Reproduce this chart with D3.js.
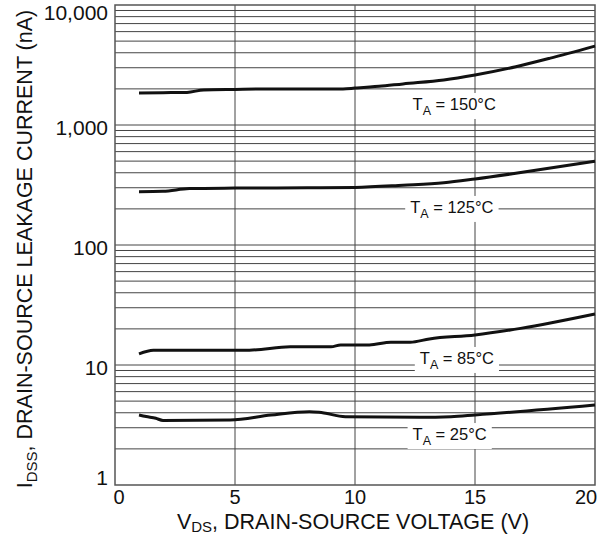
<!DOCTYPE html>
<html><head><meta charset="utf-8">
<script src="https://cdn.jsdelivr.net/npm/d3@7/dist/d3.min.js"></script>
<style>
body{margin:0;background:#fff;}
text{font-family:Arial,"Liberation Sans",Helvetica,sans-serif;fill:#111;}
</style></head>
<body>
<svg id="chart" width="611" height="535"></svg>
<script>
// ---- data ----
const xTicks = [0, 5, 10, 15, 20];
const yTicks = [1, 10, 100, 1000, 10000];
const yTickLabels = ["1", "10", "100", "1,000", "10,000"];

const v150 = [1, 2, 3, 3.7, 5, 7, 9.5, 10, 11, 12, 13.7, 15, 16.7, 18.1, 20];
const i150 = [1850, 1860, 1870, 1960, 1980, 2000, 2000, 2030, 2100, 2200, 2370, 2610, 3060, 3590, 4550];

const v125 = [1, 2, 3.1, 5, 8, 10, 12, 13.7, 15, 16.7, 20];
const i125 = [278, 280, 295, 298, 300, 302, 315, 330, 355, 396, 500];

const v85 = [1, 1.6, 5.6, 7.3, 9, 9.4, 10.6, 11.5, 12.3, 13.1, 15, 16.9, 20];
const i85 = [12.4, 13.3, 13.3, 14.2, 14.2, 14.7, 14.7, 15.5, 15.5, 16.5, 17.8, 20.2, 26.6];

const v25 = [1, 1.3, 1.7, 2, 4.8, 6.5, 8.1, 8.5, 9.6, 12.7, 14, 15, 20];
const i25 = [3.83, 3.72, 3.6, 3.45, 3.48, 3.83, 4.08, 4.04, 3.71, 3.67, 3.71, 3.83, 4.64];

const seriesTemps = ["150", "125", "85", "25"];
// label anchors in data units (start of text, baseline)
const labelV = [12.4, 12.3, 12.7, 12.4];
const labelI = [1334, 185, 10.2, 2.37];

// ---- layout ----
const svg = d3.select("#chart");
const L = 115, R = 595, T = 5, B = 485;
const x = d3.scaleLinear().domain([0, 20]).range([L, R]);
const y = d3.scaleLog().domain([1, 10000]).range([B, T]);

// gridlines
const g = svg.append("g");
const minor = [];
for (let d = 1; d < 10000; d *= 10) for (let k = 2; k <= 9; k++) minor.push(d * k);
g.selectAll("line.h").data(minor.concat([10, 100, 1000])).join("line")
  .attr("x1", L).attr("x2", R)
  .attr("y1", d => y(d)).attr("y2", d => y(d))
  .attr("stroke", "#444").attr("stroke-width", 1);
g.selectAll("line.v").data([5, 10, 15]).join("line")
  .attr("y1", T).attr("y2", B)
  .attr("x1", d => x(d)).attr("x2", d => x(d))
  .attr("stroke", "#444").attr("stroke-width", 1);

// border
svg.append("rect").attr("x", L).attr("y", T).attr("width", R - L).attr("height", B - T)
  .attr("fill", "none").attr("stroke", "#555").attr("stroke-width", 1.5);

// curves
const line = d3.line().x(d => x(d[0])).y(d => y(d[1])).curve(d3.curveMonotoneX);
const series = [[v150, i150], [v125, i125], [v85, i85], [v25, i25]];
series.forEach(([vs, is]) => {
  svg.append("path").datum(vs.map((v, k) => [v, is[k]]))
    .attr("d", line).attr("fill", "none").attr("stroke", "#111")
    .attr("stroke-width", 3).attr("stroke-linejoin", "round");
});

// labels with white boxes
seriesTemps.forEach((t, k) => {
  const gx = x(labelV[k]), gy = y(labelI[k]);
  const grp = svg.append("g");
  const rect = grp.append("rect").attr("fill", "#fff");
  const txt = grp.append("text").attr("x", gx).attr("y", gy).style("font-size", "16.5px");
  txt.append("tspan").text("T");
  txt.append("tspan").text("A").attr("dy", 5).style("font-size", "12.5px");
  txt.append("tspan").text(" = " + t + "°C").attr("dy", -5);
  const bb = txt.node().getBBox();
  rect.attr("x", bb.x - 5).attr("y", gy - 17).attr("width", bb.width + 10).attr("height", 26);
});

// y tick labels
const yOff = {1: 0, 10: 10, 100: 10, 1000: 10, 10000: 15};
svg.selectAll("text.yt").data(yTicks).join("text")
  .attr("x", 108).attr("y", d => y(d) + yOff[d])
  .attr("text-anchor", "end").style("font-size", "21px")
  .text((d, k) => yTickLabels[k]);

// x tick labels
const xShift = {0: 4, 5: 0, 10: 0, 15: 0, 20: -9};
svg.selectAll("text.xt").data(xTicks).join("text")
  .attr("x", d => x(d) + xShift[d]).attr("y", 504)
  .attr("text-anchor", "middle").style("font-size", "20px")
  .text(d => d);

// x title
const xt = svg.append("text").attr("x", 353).attr("y", 528.5)
  .attr("text-anchor", "middle").style("font-size", "21.5px");
xt.append("tspan").text("V");
xt.append("tspan").text("DS").attr("dy", 3).style("font-size", "15px");
xt.append("tspan").text(", DRAIN-SOURCE VOLTAGE (V)").attr("dy", -3);

// y title
const yt = svg.append("text").attr("transform", "translate(32,249) rotate(-90)")
  .attr("text-anchor", "middle").style("font-size", "21.5px");
yt.append("tspan").text("I");
yt.append("tspan").text("DSS").attr("dy", 5).style("font-size", "15px");
yt.append("tspan").text(", DRAIN-SOURCE LEAKAGE CURRENT (nA)").attr("dy", -5);
</script>
</body></html>
